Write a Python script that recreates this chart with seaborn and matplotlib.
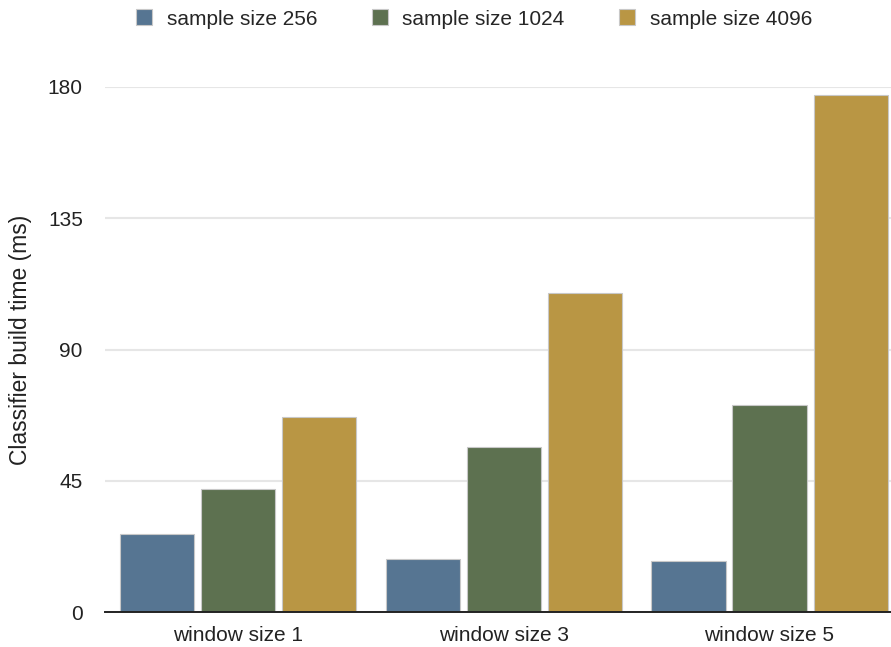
import matplotlib
matplotlib.use("Agg")
import matplotlib.pyplot as plt
import pandas as pd
import seaborn as sns

# Build times (ms) per window size, one list per sample size
windows = ["window size 1", "window size 3", "window size 5"]
samples = ["sample size 256", "sample size 1024", "sample size 4096"]
size_256 = [26.8, 18.3, 17.6]
size_1024 = [42.2, 56.5, 71.0]
size_4096 = [66.7, 109.4, 177.4]
colors = ["#567592", "#5d7150", "#b99644"]
y_ticks = [0, 45, 90, 135, 180]

rows = []
for name, vals in zip(samples, [size_256, size_1024, size_4096]):
    for w, v in zip(windows, vals):
        rows.append({"window": w, "sample": name, "time": v})
df = pd.DataFrame(rows)

sns.set_theme(style="white")
plt.rcParams["font.family"] = ["Liberation Sans", "DejaVu Sans"]

fig = plt.figure(figsize=(8.91, 6.47), dpi=100)
ax = fig.add_axes([105 / 891, 1 - 612 / 647, 1 - 105 / 891, (612 - 87) / 647])

sns.barplot(data=df, x="window", y="time", hue="sample", order=windows,
            hue_order=samples, palette=colors, saturation=1, width=0.915, gap=0.085,
            edgecolor="#c8c8c8", linewidth=0.8, ax=ax, legend=True, zorder=3)

ax.set_ylim(0, 180)
ax.set_xlim(-0.5, 2.457)
ax.set_yticks(y_ticks)
ax.set_yticklabels([str(t) for t in y_ticks])
ax.yaxis.grid(True, color="#e6e6e6", linewidth=1.5, zorder=0)
ax.set_axisbelow(True)
for side in ["top", "right", "left"]:
    ax.spines[side].set_visible(False)
ax.spines["bottom"].set_color("#222222")
ax.spines["bottom"].set_linewidth(1.4)
ax.spines["bottom"].set_zorder(4)

ax.tick_params(axis="both", length=0, labelsize=15, colors="#222222")
ax.tick_params(axis="y", pad=16)
ax.tick_params(axis="x", pad=10)
ax.set_xlabel("")
ax.set_ylabel("Classifier build time (ms)", fontsize=16.5, color="#222222")
ax.yaxis.set_label_coords(-0.093, 0.518)

ax.legend(loc="center", bbox_to_anchor=(474 / 891, 1 - 19 / 647),
          bbox_transform=fig.transFigure, ncol=3, frameon=False, fontsize=15,
          handlelength=0.78, handleheight=0.78, handletextpad=0.7,
          columnspacing=2.6, borderaxespad=0)

fig.savefig("out.png", dpi=100)
